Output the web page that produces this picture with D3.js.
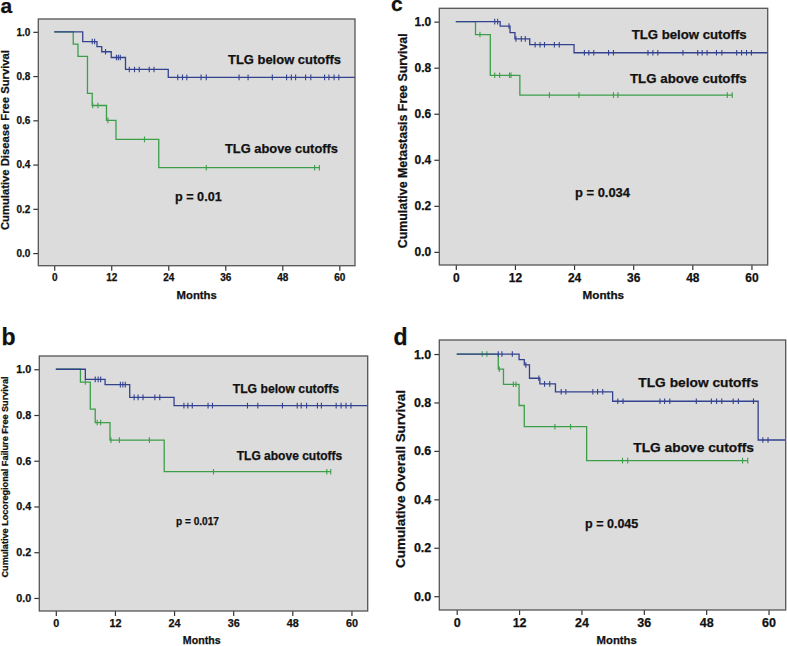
<!DOCTYPE html>
<html><head><meta charset="utf-8">
<script src="https://cdn.jsdelivr.net/npm/d3@7"></script>
<style>
body{margin:0;background:#fff;}
svg{display:block;font-family:"Liberation Sans",Arial,Helvetica,sans-serif;font-weight:bold;}
</style></head><body>
<svg id="chart" width="787" height="646"></svg>
<script>
// ---------- DATA ----------
const monthTicks = [0, 12, 24, 36, 48, 60];
const survivalTicks = [0, 0.2, 0.4, 0.6, 0.8, 1.0];
const groupLabels = ["TLG below cutoffs", "TLG above cutoffs"];
const xAxisTitle = "Months";

// Panel a: disease free survival  (steps: [month, survival])
const aBelowSteps = [[0,1],[6,0.956],[9,0.933],[10,0.910],[12,0.884],[15,0.830],[24,0.794]];
const aBelowCensor = [8.0,8.5,10.8,13.1,13.5,13.9,15.8,16.9,17.9,20,21,26,27,27.9,30.9,32,38.9,40.8,45.9,48.9,49.9,50.8,52.9,54,56.9,57.8,58.9,59.9];
const aBelowEnd = 66;
const aAboveSteps = [[0,1],[4,0.944],[5,0.889],[7,0.722],[8,0.667],[11,0.600],[13,0.514],[22,0.386]];
const aAboveCensor = [8.1,9.2,11.3,19,32,54.8,55.8];
const aAboveEnd = 55.8;

// Panel b: locoregional failure free survival
const bBelowSteps = [[0,1],[6,0.956],[10,0.933],[15,0.877],[24,0.841]];
const bBelowCensor = [8.0,8.6,9.1,13.1,13.6,14.1,15.9,16.7,17.7,20.1,21.1,26,26.8,27.7,30.9,31.8,38.9,41,46,49,49.8,50.9,53.1,53.9,56.9,57.9,58.9,59.9];
const bBelowEnd = 66;
const bAboveSteps = [[0,1],[5,0.944],[7,0.826],[8,0.767],[11,0.690],[22,0.552]];
const bAboveCensor = [6.0,8.4,9.1,11.2,12.9,19.0,32,55,55.8];
const bAboveEnd = 55.8;

// Panel c: metastasis free survival
const cBelowSteps = [[0,1],[9,0.981],[11,0.952],[12,0.925],[15,0.900],[24,0.865]];
const cBelowCensor = [7.9,8.5,10.8,12.2,13.3,14.1,16.1,17.1,18,20,21,26.1,27,28,31,32,39,40,41,46.1,49.1,50,51,52.9,54,57,58,59,60];
const cBelowEnd = 66;
const cAboveSteps = [[0,1],[4,0.944],[7,0.767],[13,0.681]];
const cAboveCensor = [4.9,7.9,8.9,10.9,11.2,19,25,32,32.9,55.1,56.1];
const cAboveEnd = 56.1;

// Panel d: overall survival
const dBelowSteps = [[0,1],[12,0.977],[13,0.955],[14,0.900],[16,0.877],[19,0.844],[30,0.805],[58,0.645]];
const dBelowCensor = [8.0,8.7,10.7,13.3,15.8,16.9,17.9,20.1,21,26.2,27.1,28.1,31,32,39.1,40,41,46.1,49,50,51,53.2,54.2,57.1,58.9,59.9];
const dBelowEnd = 66;
const dAboveSteps = [[0,1],[8,0.9375],[9,0.875],[12,0.7875],[13,0.700],[25,0.560]];
const dAboveCensor = [4.9,5.8,8.2,10.9,11.4,18.9,21.9,31.9,32.9,55,56];
const dAboveEnd = 56;

const panelLetters = ["a", "b", "c", "d"];
const yTitles = ["Cumulative Disease Free Survival", "Cumulative Locoregional Failure Free Survival",
                 "Cumulative Metastasis Free Survival", "Cumulative Overall Survival"];
const pLabels = ["p = 0.01", "p = 0.017", "p = 0.034", "p = 0.045"];

// ---------- LAYOUT ----------
const colors = {below: "#33428f", above: "#3c9e48", bg: "#dcdcdc", frame: "#555555", text: "#111111"};
const xDomain = [-3.35, 63.3];
const yDomain = [-0.057, 1.058];

const layouts = [
  {frame:[38.3,19,355,265.7], tick:10, title:[5,140,11.5,180], months:[196.7,295,11.3],
   letter:[0.5,13,21], below:[228,59,13,113], above:[225,148,13,113], p:[175,197,12.6,46.7]},
  {frame:[39.3,356,367.7,611], tick:10.8, title:[4.5,477,9.2,201], months:[201.7,640,10.6],
   letter:[1.5,345,23], below:[232.7,388.3,12.2,106.3], above:[236.7,456,12.2,105.6], p:[176,521,11,43]},
  {frame:[439.3,8.3,767.7,265], tick:12, title:[403,140.8,12.4,215], months:[603.3,295,11.7],
   letter:[391,11,21], below:[631.7,34.3,13.2,115], above:[630,78.3,13.2,116.7], p:[575,192.7,12.9,55]},
  {frame:[439.3,340,785.7,610], tick:12.5, title:[400.7,479,13.4,178], months:[616.7,640,11.3],
   letter:[393.5,345,23], below:[638.3,382.7,13.7,120], above:[633.3,447.3,13.7,120.7], p:[585,523.3,12.5,53.3]}
];

const panelData = [
  {below:[aBelowSteps,aBelowCensor,aBelowEnd], above:[aAboveSteps,aAboveCensor,aAboveEnd]},
  {below:[bBelowSteps,bBelowCensor,bBelowEnd], above:[bAboveSteps,bAboveCensor,bAboveEnd]},
  {below:[cBelowSteps,cBelowCensor,cBelowEnd], above:[cAboveSteps,cAboveCensor,cAboveEnd]},
  {below:[dBelowSteps,dBelowCensor,dBelowEnd], above:[dAboveSteps,dAboveCensor,dAboveEnd]}
];

const svg = d3.select("#chart");
const bis = d3.bisector(d => d[0]).right;
const heavy = sel => sel.attr("stroke", colors.text).attr("stroke-width", 0.25);

panelData.forEach((pd, i) => {
  const L = layouts[i];
  const [fx0, fy0, fx1, fy1] = L.frame;
  const x = d3.scaleLinear().domain(xDomain).range([fx0, fx1]);
  const y = d3.scaleLinear().domain(yDomain).range([fy1, fy0]);
  const g = svg.append("g");

  g.append("rect").attr("x", fx0).attr("y", fy0).attr("width", fx1 - fx0).attr("height", fy1 - fy0)
    .attr("fill", colors.bg);

  const clipId = "clip" + i;
  svg.append("defs").append("clipPath").attr("id", clipId)
    .append("rect").attr("x", fx0).attr("y", fy0).attr("width", fx1 - fx0).attr("height", fy1 - fy0);

  const plot = g.append("g").attr("clip-path", `url(#${clipId})`);
  const line = d3.line().x(d => x(d[0])).y(d => y(d[1])).curve(d3.curveStepAfter);

  [["above", colors.above], ["below", colors.below]].forEach(([key, col]) => {
    const [steps, censor, end] = pd[key];
    const pts = steps.concat([[end, steps[steps.length - 1][1]]]);
    plot.append("path").attr("d", line(pts)).attr("fill", "none")
      .attr("stroke", col).attr("stroke-width", 1.3);
    const cpts = censor.map(t => [t, steps[Math.max(0, bis(steps, t) - 1)][1]]);
    plot.selectAll(null).data(cpts).enter().append("line")
      .attr("x1", d => x(d[0])).attr("x2", d => x(d[0]))
      .attr("y1", d => y(d[1]) - 2.8).attr("y2", d => y(d[1]) + 2.8)
      .attr("stroke", col).attr("stroke-width", 1.1);
  });

  const xa = g.append("g").attr("transform", `translate(0,${fy1})`)
    .call(d3.axisBottom(x).tickValues(monthTicks).tickSize(5).tickPadding(3));
  const ya = g.append("g").attr("transform", `translate(${fx0},0)`)
    .call(d3.axisLeft(y).tickValues(survivalTicks).tickFormat(d3.format(".1f")).tickSize(5).tickPadding(3));
  [xa, ya].forEach(a => {
    a.select(".domain").remove();
    a.selectAll(".tick line").attr("stroke", "#333").attr("stroke-width", 1.2);
    a.selectAll(".tick text").attr("fill", colors.text).attr("font-size", L.tick)
      .attr("font-weight", "bold").attr("font-family", '"Liberation Sans",Arial,sans-serif')
      .call(heavy);
  });

  g.append("rect").attr("x", fx0).attr("y", fy0).attr("width", fx1 - fx0).attr("height", fy1 - fy0)
    .attr("fill", "none").attr("stroke", colors.frame).attr("stroke-width", 1.3);

  const [tx, ty, tf, tl] = L.title;
  g.append("text").attr("transform", `translate(${tx + 0.35 * tf},${ty}) rotate(-90)`)
    .attr("text-anchor", "middle").attr("font-size", tf).attr("fill", colors.text)
    .attr("textLength", tl).attr("lengthAdjust", "spacingAndGlyphs").text(yTitles[i]).call(heavy);
  const [mx, my, mf] = L.months;
  g.append("text").attr("x", mx).attr("y", my + 0.35 * mf).attr("text-anchor", "middle")
    .attr("font-size", mf).attr("fill", colors.text).text(xAxisTitle).call(heavy);

  g.append("text").attr("x", L.letter[0]).attr("y", L.letter[1]).attr("font-size", L.letter[2])
    .attr("fill", colors.text).text(panelLetters[i]).call(heavy);

  [[L.below, groupLabels[0]], [L.above, groupLabels[1]], [L.p, pLabels[i]]].forEach(([pos, txt]) => {
    g.append("text").attr("x", pos[0]).attr("y", pos[1] + 0.35 * pos[2]).attr("font-size", pos[2])
      .attr("fill", colors.text).attr("textLength", pos[3]).attr("lengthAdjust", "spacingAndGlyphs")
      .text(txt).call(heavy);
  });
});
</script>
</body></html>
